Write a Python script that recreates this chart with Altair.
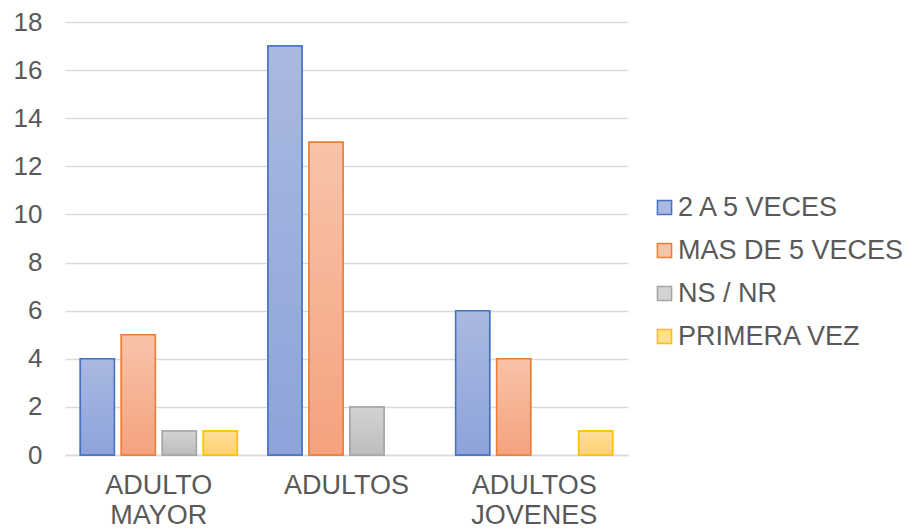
import altair as alt
import pandas as pd

categories = ["ADULTO MAYOR", "ADULTOS", "ADULTOS JOVENES"]
series = ["2 A 5 VECES", "MAS DE 5 VECES", "NS / NR", "PRIMERA VEZ"]
values = {
    "2 A 5 VECES": [4, 17, 6],
    "MAS DE 5 VECES": [5, 13, 4],
    "NS / NR": [1, 2, 0],
    "PRIMERA VEZ": [1, 0, 1],
}
stroke_colors = ["#4472C4", "#ED7D31", "#A5A5A5", "#FFC000"]
top_colors = ["#AAB9E1", "#F8C3A8", "#D3D3D3", "#FFDE98"]
bottom_colors = ["#8DA3DA", "#F5A27F", "#BDBDBD", "#FFD173"]

rows = []
for s in series:
    for c, v in zip(categories, values[s]):
        rows.append({"cat": c, "serie": s, "val": v})
df = pd.DataFrame(rows)

FONT = "Liberation Sans"
TXT = "#595959"

x_enc = alt.X("cat:N", sort=categories, title=None,
              scale=alt.Scale(paddingInner=0, paddingOuter=0),
              axis=alt.Axis(labelExpr="split(datum.label, ' ')", labelAngle=0,
                            labelFontSize=27, labelColor=TXT, labelFont=FONT,
                            labelLineHeight=30, labelPadding=17, ticks=False,
                            domain=True, domainColor="#D9D9D9", domainWidth=1.5,
                            labelBaseline="top", labelLimit=0))
y_enc = alt.Y("val:Q", title=None,
              scale=alt.Scale(domain=[0, 18], nice=False),
              axis=alt.Axis(values=list(range(0, 19, 2)), labelFontSize=26,
                            labelColor=TXT, labelFont=FONT, labelPadding=23,
                            ticks=False, domain=False, gridColor="#D9D9D9",
                            gridWidth=1.5))
xoff = alt.XOffset("serie:N", sort=series,
                   scale=alt.Scale(domain=series, paddingInner=0.17, paddingOuter=0.374))

base = alt.Chart(df).transform_filter("datum.val > 0")

leg = dict(title=None, orient="none", legendX=586, legendY=172,
           labelFontSize=27, labelColor=TXT, labelFont=FONT, labelLimit=0,
           symbolType="square", symbolSize=200, symbolStrokeWidth=1.5,
           rowPadding=15, labelOffset=0)

legend_layer = base.mark_bar(strokeWidth=1.5).encode(
    x=x_enc, y=y_enc, xOffset=xoff,
    fill=alt.Fill("serie:N", sort=series,
                  scale=alt.Scale(domain=series, range=top_colors),
                  legend=alt.Legend(**leg)),
    stroke=alt.Stroke("serie:N", sort=series,
                      scale=alt.Scale(domain=series, range=stroke_colors),
                      legend=alt.Legend(**leg)),
)

layers = [legend_layer]
for s, sc, tc, bc in zip(series, stroke_colors, top_colors, bottom_colors):
    grad = alt.Gradient(gradient="linear",
                        stops=[alt.GradientStop(color=tc, offset=0),
                               alt.GradientStop(color=bc, offset=1)],
                        x1=0, x2=0, y1=0, y2=1)
    layers.append(
        base.transform_filter(alt.datum.serie == s)
        .mark_bar(fill=grad, stroke=sc, strokeWidth=1.5)
        .encode(x=x_enc, y=y_enc, xOffset=xoff)
    )

chart = alt.layer(*layers).properties(
    width=563, height=433,
    padding={"left": 65, "top": 22, "right": 283, "bottom": 74},
    autosize=alt.AutoSizeParams(type="none"),
    background="white",
).configure_view(stroke=None)

chart.save("out.html", embed_options={"renderer": "svg", "actions": False})
